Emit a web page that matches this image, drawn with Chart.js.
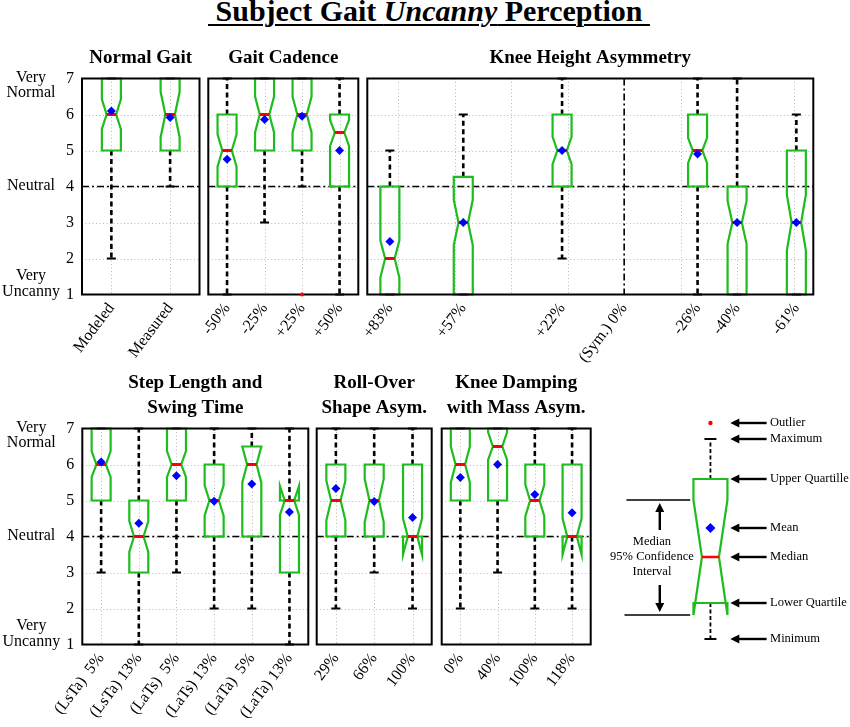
<!DOCTYPE html>
<html>
<head>
<meta charset="utf-8">
<script src="https://cdn.jsdelivr.net/npm/chart.js@4.4.0/dist/chart.umd.min.js"></script>
<style>
  html, body { margin: 0; padding: 0; background: #fff; }
  #page { position: relative; width: 850px; height: 727px; overflow: hidden; }
  #page canvas { position: absolute; left: 0; top: 0; }
  #title {
    position: absolute; left: 4px; top: -4px; width: 850px; text-align: center;
    font: bold 30px "Liberation Serif", serif; line-height: 30px; color: #000;
  }
  #title span { text-decoration: underline; text-decoration-thickness: 2px; text-underline-offset: 3px; }
</style>
</head>
<body>
<div id="page">
  <div id="title"><span>&nbsp;Subject Gait <i>Uncanny</i> Perception&nbsp;</span></div>
</div>
<script>
// ---- data (Likert scale 1 = very uncanny ... 7 = very normal) ----
const yTicks = [1, 2, 3, 4, 5, 6, 7];
const neutralLevel = 4;
const yWordVals = [7, 4, 1];
const yWordText = [['Very', 'Normal'], ['Neutral'], ['Very', 'Uncanny']];

// Normal Gait
const normalCats = ['Modeled', 'Measured'];
const normalMin = [2, 4];
const normalQ1 = [5, 5];
const normalMed = [6, 6];
const normalQ3 = [7, 7];
const normalMax = [7, 7];
const normalNotchLo = [5.6, 5.37];
const normalNotchHi = [6.42, 6.63];
const normalMean = [6.1, 5.92];
const normalOut = [[], []];

// Gait Cadence
const cadCats = ['-50%', '-25%', '+25%', '+50%'];
const cadMin = [1, 3, 4, 1];
const cadQ1 = [4, 5, 5, 4];
const cadMed = [5, 6, 6, 5.5];
const cadQ3 = [6, 7, 7, 6];
const cadMax = [7, 7, 7, 7];
const cadNotchLo = [4.55, 5.5, 5.5, 5.12];
const cadNotchHi = [5.45, 6.5, 6.5, 5.85];
const cadMean = [4.76, 5.86, 5.95, 5.0];
const cadOut = [[], [], [1], []];

// Knee Height Asymmetry (x = asymmetry percent)
const kneeTicks = [83, 57, 22, 0, -26, -40, -61];
const kneeTickLabels = ['+83%', '+57%', '+22%', '(Sym.) 0%', '-26%', '-40%', '-61%'];
const kneeGrid = [80, 60, 40, 20, -20, -40, -60];
const kneeSym = 0;
const kneeBoxX = [83, 57, 22, -26, -40, -61];
const kneeMin = [1, 1, 2, 1, 1, 1];
const kneeQ1 = [1, 1, 4, 4, 1, 1];
const kneeMed = [2, 3, 5, 5, 3, 3];
const kneeQ3 = [4, 4.27, 6, 6, 4, 5];
const kneeMax = [5, 6, 7, 7, 7, 6];
const kneeNotchLo = [1.47, 2.37, 4.62, 4.65, 2.4, 2.23];
const kneeNotchHi = [2.5, 3.63, 5.38, 5.35, 3.6, 3.77];
const kneeMean = [2.47, 3, 5, 4.9, 3, 3];
const kneeOut = [[], [], [], [], [], []];

// Step Length and Swing Time
const stepCats = ['(LsTa)  5%', '(LsTa) 13%', '(LaTs)  5%', '(LaTs) 13%', '(LaTa)  5%', '(LaTa) 13%'];
const stepMin = [3, 1, 3, 2, 2, 1];
const stepQ1 = [5, 3, 5, 4, 4, 3];
const stepMed = [6, 4, 6, 5, 6, 5];
const stepQ3 = [7, 5, 7, 6, 6.5, 5];
const stepMax = [7, 7, 7, 7, 7, 7];
const stepNotchLo = [5.65, 3.57, 5.65, 4.58, 5.5, 4.6];
const stepNotchHi = [6.37, 4.43, 6.37, 5.42, 6.5, 5.4];
const stepMean = [6.07, 4.37, 5.69, 4.98, 5.46, 4.68];
const stepOut = [[], [], [], [], [], []];

// Roll-Over Shape Asymmetry
const rollCats = ['29%', '66%', '100%'];
const rollMin = [2, 3, 2];
const rollQ1 = [4, 4, 4];
const rollMed = [5, 5, 4];
const rollQ3 = [6, 6, 6];
const rollMax = [7, 7, 7];
const rollNotchLo = [4.45, 4.4, 3.5];
const rollNotchHi = [5.55, 5.6, 4.5];
const rollMean = [5.33, 4.97, 4.53];
const rollOut = [[], [], []];

// Knee Damping with Mass Asymmetry
const dampCats = ['0%', '40%', '100%', '118%'];
const dampMin = [2, 3, 2, 2];
const dampQ1 = [5, 5, 4, 4];
const dampMed = [6, 6.5, 5, 4];
const dampQ3 = [7, 7, 6, 6];
const dampMax = [7, 7, 7, 7];
const dampNotchLo = [5.5, 6.13, 4.56, 3.5];
const dampNotchHi = [6.5, 6.9, 5.44, 4.5];
const dampMean = [5.64, 6.0, 5.17, 4.66];
const dampOut = [[], [], [], []];

// Key (schematic box, arbitrary units)
const legendNames = ['Outlier', 'Maximum', 'Upper Quartille', 'Mean', 'Median', 'Lower Quartile', 'Minimum'];
const legendLevels = [22.7, 21.1, 17.1, 12.2, 9.3, 4.7, 1.1];
const legendNotch = [3.5, 15.0];
const legendCiText = ['Median', '95% Confidence', 'Interval'];

// ---- drawing ----
const W = 850, H = 727;
const FONT = "'Liberation Serif', 'Times New Roman', serif";
const GREEN = '#1dbd1d';

function drawBox(ctx, x, yp, b, st) {
  const hw = st.hw, nw = hw / 2;
  ctx.save();
  ctx.strokeStyle = '#000';
  ctx.lineWidth = st.whiskerW;
  ctx.setLineDash(st.dash);
  ctx.beginPath();
  if (b.max > b.q3) { ctx.moveTo(x, yp(b.q3)); ctx.lineTo(x, yp(b.max)); }
  if (b.min < b.q1) { ctx.moveTo(x, yp(b.q1)); ctx.lineTo(x, yp(b.min)); }
  ctx.stroke();
  ctx.setLineDash([]);
  ctx.lineWidth = 2;
  ctx.beginPath();
  ctx.moveTo(x - st.cap, yp(b.max)); ctx.lineTo(x + st.cap, yp(b.max));
  ctx.moveTo(x - st.cap, yp(b.min)); ctx.lineTo(x + st.cap, yp(b.min));
  ctx.stroke();
  const pts = [[x - hw, b.q1], [x - hw, b.lo], [x - nw, b.med], [x - hw, b.hi], [x - hw, b.q3],
               [x + hw, b.q3], [x + hw, b.hi], [x + nw, b.med], [x + hw, b.lo], [x + hw, b.q1]];
  ctx.strokeStyle = GREEN;
  ctx.lineWidth = 2.2;
  ctx.lineJoin = 'miter';
  ctx.beginPath();
  pts.forEach((p, k) => k ? ctx.lineTo(p[0], yp(p[1])) : ctx.moveTo(p[0], yp(p[1])));
  ctx.closePath();
  ctx.stroke();
  ctx.strokeStyle = '#ff0000';
  ctx.lineWidth = st.medW;
  ctx.beginPath();
  ctx.moveTo(x - nw, yp(b.med)); ctx.lineTo(x + nw, yp(b.med));
  ctx.stroke();
  ctx.restore();
}

function boxPlugin(spec, posVal) {
  return {
    id: 'gaitBoxes',
    beforeDatasetsDraw(chart) {
      const { ctx, chartArea: a, scales } = chart;
      const xs = scales.x, ys = scales.y;
      const yp = v => ys.getPixelForValue(v);
      ctx.save();
      // dotted grid
      ctx.strokeStyle = '#b8b8b8';
      ctx.lineWidth = 1;
      ctx.setLineDash([1, 2.5]);
      ctx.beginPath();
      yTicks.slice(1, -1).forEach(v => {
        const py = Math.round(yp(v)) + 0.5;
        ctx.moveTo(a.left, py); ctx.lineTo(a.right, py);
      });
      const gx = spec.gridX || spec.cats.map((c, i) => i);
      gx.forEach(v => {
        const px = Math.round(xs.getPixelForValue(v)) + 0.5;
        ctx.moveTo(px, a.top); ctx.lineTo(px, a.bottom);
      });
      ctx.stroke();
      // neutral line (dash-dot)
      ctx.strokeStyle = '#000';
      ctx.lineWidth = 1.6;
      ctx.setLineDash([7, 3, 2, 3]);
      ctx.beginPath();
      ctx.moveTo(a.left, yp(neutralLevel)); ctx.lineTo(a.right, yp(neutralLevel));
      if (spec.sym !== undefined) {
        const px = xs.getPixelForValue(spec.sym);
        ctx.moveTo(px, a.top); ctx.lineTo(px, a.bottom);
      }
      ctx.stroke();
      ctx.restore();
      // boxes
      spec.q1.forEach((_, i) => {
        drawBox(ctx, xs.getPixelForValue(posVal(i)), yp, {
          min: spec.min[i], q1: spec.q1[i], med: spec.med[i], q3: spec.q3[i], max: spec.max[i],
          lo: spec.lo[i], hi: spec.hi[i]
        }, { hw: 9.5, cap: 4.5, whiskerW: 2.6, dash: [5, 3.5], medW: 3 });
      });
      // frame
      ctx.save();
      ctx.strokeStyle = '#000';
      ctx.lineWidth = 2;
      ctx.strokeRect(a.left, a.top, a.right - a.left, a.bottom - a.top);
      ctx.restore();
    },
    afterDraw(chart) {
      const { ctx, chartArea: a, scales } = chart;
      ctx.save();
      ctx.fillStyle = '#000';
      ctx.textAlign = 'center';
      ctx.textBaseline = 'middle';
      ctx.font = 'bold 19px ' + FONT;
      const n = spec.title.length;
      spec.title.forEach((t, k) => {
        ctx.fillText(t, (a.left + a.right) / 2, a.top - 20 - (n - 1 - k) * 25);
      });
      if (spec.words) {
        ctx.font = '16px ' + FONT;
        const ys = scales.y;
        yWordVals.forEach((v, k) => {
          const lines = yWordText[k];
          const py = ys.getPixelForValue(v);
          let start;
          if (v === yTicks[yTicks.length - 1]) start = py - 1;
          else if (v === yTicks[0]) start = py - 3 - (lines.length - 1) * 15.5;
          else start = py - 1 - (lines.length - 1) * 7.75;
          lines.forEach((t, j) => ctx.fillText(t, a.left - 51, start + j * 15.5));
        });
      }
      ctx.restore();
    }
  };
}

function addCanvas() {
  const c = document.createElement('canvas');
  c.width = W; c.height = H;
  c.style.width = W + 'px'; c.style.height = H + 'px';
  document.getElementById('page').appendChild(c);
  return c;
}

function makePanel(spec) {
  const [L, T, R, B] = spec.area;
  const XH = 90, YW = spec.words ? 30 : 0;
  const isLin = !!spec.ticks;
  const tickFont = { family: FONT, size: 16 };
  const x = isLin ? {
    type: 'linear', min: spec.xMin, max: spec.xMax, reverse: true,
    afterBuildTicks: s => { s.ticks = spec.ticks.map(v => ({ value: v })); },
    ticks: { callback: (v, i) => spec.tickLabels[i] }
  } : { type: 'category', labels: spec.cats, offset: true, ticks: {} };
  Object.assign(x.ticks, {
    autoSkip: false, minRotation: 53, maxRotation: 53, padding: 5, color: '#000', font: tickFont
  });
  x.grid = { display: false, drawTicks: false };
  x.border = { display: false };
  x.afterFit = s => { s.height = XH; s.paddingLeft = 0; s.paddingRight = 0; };
  const y = {
    type: 'linear', min: 1, max: 7, display: !!spec.words,
    ticks: { stepSize: 1, padding: 8, color: '#000', font: tickFont },
    grid: { display: false, drawTicks: false },
    border: { display: false },
    afterFit: s => { s.width = YW; s.paddingTop = 0; s.paddingBottom = 0; }
  };
  const posVal = i => isLin ? spec.boxX[i] : i;
  const dataX = i => isLin ? spec.boxX[i] : spec.cats[i];
  const outPts = [];
  spec.out.forEach((arr, i) => arr.forEach(v => outPts.push({ x: dataX(i), y: v })));
  new Chart(addCanvas(), {
    type: 'scatter',
    data: {
      datasets: [
        { data: spec.mean.map((m, i) => ({ x: dataX(i), y: m })), pointStyle: 'rectRot',
          pointRadius: 4.5, backgroundColor: '#0000ff', borderWidth: 0, clip: false },
        { data: outPts, pointStyle: 'circle', pointRadius: 2, backgroundColor: '#ff0000',
          borderWidth: 0, clip: false }
      ]
    },
    options: {
      responsive: false, animation: false, events: [], devicePixelRatio: 1,
      layout: { padding: { left: L - YW, top: T, right: W - R, bottom: H - B - XH } },
      scales: { x, y },
      plugins: { legend: { display: false }, tooltip: { enabled: false } }
    },
    plugins: [boxPlugin(spec, posVal)]
  });
}

makePanel({ area: [82, 78.5, 199.5, 294.5], title: ['Normal Gait'], words: true, cats: normalCats,
  min: normalMin, q1: normalQ1, med: normalMed, q3: normalQ3, max: normalMax,
  lo: normalNotchLo, hi: normalNotchHi, mean: normalMean, out: normalOut });
makePanel({ area: [208.3, 78.5, 358.3, 294.5], title: ['Gait Cadence'], cats: cadCats,
  min: cadMin, q1: cadQ1, med: cadMed, q3: cadQ3, max: cadMax,
  lo: cadNotchLo, hi: cadNotchHi, mean: cadMean, out: cadOut });
makePanel({ area: [367.3, 78.5, 813.3, 294.5], title: ['Knee Height Asymmetry'],
  ticks: kneeTicks, tickLabels: kneeTickLabels, xMin: -67, xMax: 91, gridX: kneeGrid, sym: kneeSym,
  boxX: kneeBoxX, min: kneeMin, q1: kneeQ1, med: kneeMed, q3: kneeQ3, max: kneeMax,
  lo: kneeNotchLo, hi: kneeNotchHi, mean: kneeMean, out: kneeOut });
makePanel({ area: [82.3, 428.5, 308.3, 644.5], title: ['Step Length and', 'Swing Time'], words: true,
  cats: stepCats, min: stepMin, q1: stepQ1, med: stepMed, q3: stepQ3, max: stepMax,
  lo: stepNotchLo, hi: stepNotchHi, mean: stepMean, out: stepOut });
makePanel({ area: [316.7, 428.5, 431.7, 644.5], title: ['Roll-Over', 'Shape Asym.'],
  cats: rollCats, min: rollMin, q1: rollQ1, med: rollMed, q3: rollQ3, max: rollMax,
  lo: rollNotchLo, hi: rollNotchHi, mean: rollMean, out: rollOut });
makePanel({ area: [441.7, 428.5, 590.7, 644.5], title: ['Knee Damping', 'with Mass Asym.'],
  cats: dampCats, min: dampMin, q1: dampQ1, med: dampMed, q3: dampQ3, max: dampMax,
  lo: dampNotchLo, hi: dampNotchHi, mean: dampMean, out: dampOut });

// ---- key ----
function arrowTo(ctx, x1, y1, x2, y2, head) {
  const ang = Math.atan2(y2 - y1, x2 - x1);
  ctx.beginPath();
  ctx.moveTo(x1, y1);
  ctx.lineTo(x2 - Math.cos(ang) * head * 0.8, y2 - Math.sin(ang) * head * 0.8);
  ctx.stroke();
  ctx.beginPath();
  ctx.moveTo(x2, y2);
  ctx.lineTo(x2 - Math.cos(ang) * head + Math.sin(ang) * head * 0.5, y2 - Math.sin(ang) * head - Math.cos(ang) * head * 0.5);
  ctx.lineTo(x2 - Math.cos(ang) * head - Math.sin(ang) * head * 0.5, y2 - Math.sin(ang) * head + Math.cos(ang) * head * 0.5);
  ctx.closePath();
  ctx.fill();
}

const keyCenter = 112.7;
const keyPlugin = {
  id: 'gaitKey',
  beforeDatasetsDraw(chart) {
    const { ctx, scales: { x, y } } = chart;
    const lv = legendLevels;
    drawBox(ctx, x.getPixelForValue(keyCenter), v => y.getPixelForValue(v), {
      min: lv[6], q1: lv[5], med: lv[4], q3: lv[2], max: lv[1], lo: legendNotch[0], hi: legendNotch[1]
    }, { hw: 17, cap: 6, whiskerW: 1.8, dash: [4, 2.5], medW: 2.5 });
  },
  afterDatasetsDraw(chart) {
    const { ctx, scales: { x, y } } = chart;
    ctx.save();
    ctx.strokeStyle = '#000';
    ctx.fillStyle = '#000';
    ctx.lineWidth = 2.4;
    ctx.font = '12.5px ' + FONT;
    ctx.textAlign = 'left';
    ctx.textBaseline = 'middle';
    legendNames.forEach((name, k) => {
      const py = y.getPixelForValue(legendLevels[k]);
      arrowTo(ctx, x.getPixelForValue(170), py, x.getPixelForValue(133), py, 9);
      ctx.fillText(name, x.getPixelForValue(173.5), py);
    });
    // confidence interval bracket
    const yHi = y.getPixelForValue(legendNotch[1]);
    const yLo = y.getPixelForValue(legendNotch[0]);
    ctx.lineWidth = 1.5;
    ctx.beginPath();
    ctx.moveTo(x.getPixelForValue(27), yHi); ctx.lineTo(x.getPixelForValue(92), yHi);
    ctx.moveTo(x.getPixelForValue(25), yLo); ctx.lineTo(x.getPixelForValue(92), yLo);
    ctx.stroke();
    ctx.lineWidth = 2.4;
    const ax = x.getPixelForValue(61);
    arrowTo(ctx, ax, yHi + 30, ax, yHi + 3, 9);
    arrowTo(ctx, ax, yLo - 30, ax, yLo - 3, 9);
    ctx.textAlign = 'center';
    const mid = (yHi + yLo) / 2;
    legendCiText.forEach((t, j) => ctx.fillText(t, x.getPixelForValue(53), mid - 1 + (j - 1) * 15));
    ctx.restore();
  }
};

new Chart(addCanvas(), {
  type: 'scatter',
  data: {
    datasets: [
      { data: [{ x: keyCenter, y: legendLevels[3] }], pointStyle: 'rectRot', pointRadius: 5,
        backgroundColor: '#0000ff', borderWidth: 0, clip: false },
      { data: [{ x: keyCenter, y: legendLevels[0] }], pointStyle: 'circle', pointRadius: 2.2,
        backgroundColor: '#ff0000', borderWidth: 0, clip: false }
    ]
  },
  options: {
    responsive: false, animation: false, events: [], devicePixelRatio: 1,
    layout: { padding: { left: 600, top: 410, right: 0, bottom: 77 } },
    scales: {
      x: { type: 'linear', min: 0, max: 250, display: false },
      y: { type: 'linear', min: 0, max: 24, display: false }
    },
    plugins: { legend: { display: false }, tooltip: { enabled: false } }
  },
  plugins: [keyPlugin]
});
</script>
</body>
</html>
